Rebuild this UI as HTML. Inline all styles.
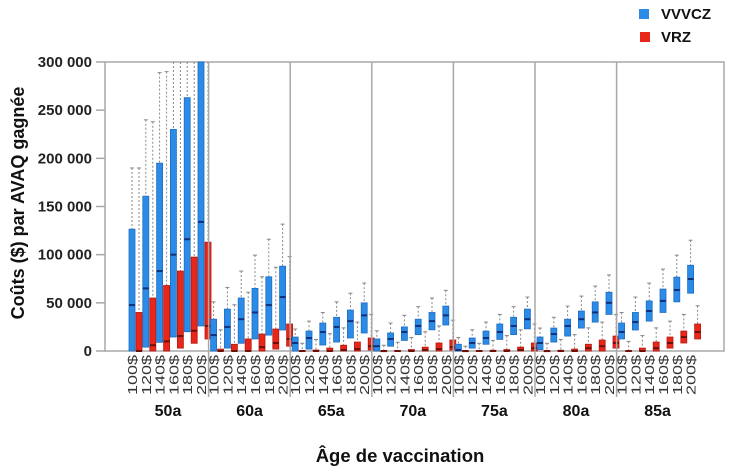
<!DOCTYPE html>
<html><head><meta charset="utf-8"><style>
html,body{margin:0;padding:0;background:#fff;}
svg{display:block;font-family:"Liberation Sans",sans-serif;}
</style></head><body>
<svg id="chart" width="742" height="473" viewBox="0 0 742 473">
<g>
<rect x="639" y="9" width="10" height="10" fill="#2b8be6"/>
<text x="661" y="19" font-size="15" font-weight="bold" fill="#111">VVVCZ</text>
<rect x="640" y="32" width="10" height="10" fill="#e8261a"/>
<text x="661" y="42" font-size="15" font-weight="bold" fill="#111">VRZ</text>
</g>
<text transform="translate(24,203) rotate(-90)" text-anchor="middle" font-size="18" font-weight="bold" fill="#111">Coûts ($) par AVAQ gagnée</text>
<text x="400" y="462" text-anchor="middle" font-size="18.5" font-weight="bold" fill="#111">Âge de vaccination</text>
<g id="plot"></g>
</svg>
<script>
const groups = ["50a","60a","65a","70a","75a","80a","85a"];
const prices = ["100$","120$","140$","160$","180$","200$"];
const yTicks = [0,50000,100000,150000,200000,250000,300000];
const yTickLabels = ["0","50 000","100 000","150 000","200 000","250 000","300 000"];
// [Q1, median, Q3, upper whisker] per group, per price
const blueStats = [
 [[0,47700,126500,190000],[4000,65000,160700,240000],[9000,83000,195000,289000],[14500,100000,230000,330000],[20000,116000,263000,340000],[26000,134000,300000,350000]],
 [[0,16500,33000,51000],[3000,25000,43500,66000],[8000,33000,55000,83000],[12500,40000,65000,99500],[16500,47700,77000,116000],[21800,56000,88000,131700]],
 [[0,8300,14500,22800],[2000,13500,20700,31000],[6200,19700,29000,40000],[9300,25000,35000,51000],[13500,31000,42500,60000],[18700,37000,50000,70500]],
 [[0,5000,12500,21000],[5000,12500,18700,29000],[11000,19700,25000,37000],[17000,26000,33000,46000],[22000,31000,40000,55000],[27000,37000,46600,63000]],
 [[0,1000,7000,14000],[3000,8300,13500,22000],[7000,13500,20700,30000],[12000,19700,28000,38000],[17000,26000,35000,46000],[23000,33000,43500,56000]],
 [[1500,8300,14500,23800],[9300,17600,23800,35000],[15500,26000,33000,46600],[23800,33000,41500,57000],[30000,40000,51000,67400],[38000,50000,61000,79000]],
 [[12500,19700,29000,40000],[21800,30000,40000,56000],[31000,41500,52000,70500],[40000,52000,64300,85000],[51000,63300,76700,99500],[60000,74700,89000,115000]]
];
const redStats = [
 [[0,0,40000,190000],[0,6000,55000,238000],[0,10000,68000,290000],[3000,15500,83000,330000],[8000,21000,97500,340000],[12500,26000,113000,350000]],
 [[0,0,2000,22000],[0,0,7000,48000],[0,0,12500,61000],[0,4000,17600,77000],[2000,8300,22800,87000],[5000,12500,28000,98000]],
 [[0,0,500,8000],[0,0,1000,12000],[0,0,3000,18000],[0,1000,6000,24000],[0,2000,9300,30000],[1000,5000,13500,38000]],
 [[0,0,300,6000],[0,0,600,9000],[0,0,1500,14000],[0,1000,4000,20000],[0,2000,8300,26000],[1000,4000,11400,32000]],
 [[0,0,300,5000],[0,0,500,8000],[0,0,800,11000],[0,0,1500,16000],[0,1000,4000,22000],[0,3000,8300,28000]],
 [[0,0,300,8000],[0,0,800,12000],[0,0,2000,17000],[0,3000,7000,24000],[0,5000,11400,30000],[3000,8300,15500,38000]],
 [[0,0,500,10000],[0,0,3000,16000],[0,3000,9300,24000],[3000,8300,14500,31000],[8300,14500,20700,38000],[12500,19700,28000,47000]]
];
const NS="http://www.w3.org/2000/svg";
const L=105,R=724,T=62,B=351;
const yMax=300000;
function y(v){return B-Math.min(v,yMax)/yMax*(B-T);}
function gx(g){return 128+g*81.6;}
function bx(g,i){return gx(g)+4+i*13.8;}
const plot=document.getElementById('plot');
function mk(tag,attrs,parent){const e=document.createElementNS(NS,tag);for(const k in attrs)e.setAttribute(k,attrs[k]);(parent||plot).appendChild(e);return e;}
const frame=mk('rect',{x:L,y:T,width:R-L,height:B-T,fill:'none',stroke:'#a8a8a8','stroke-width':1.5});


yTicks.forEach((v,k)=>{
 const t=mk('line',{x1:96,x2:L,y1:y(v),y2:y(v),stroke:'#a8a8a8','stroke-width':1.5});
 
 
 const tx=mk('text',{x:92,y:y(v)+5,'text-anchor':'end','font-size':15,'font-weight':'bold',fill:'#222'});
 tx.textContent=yTickLabels[k];
 
 
});
groups.forEach((gname,g)=>{
 if(g>0){
  const s=mk('line',{x1:gx(g)-1,x2:gx(g)-1,y1:T,y2:397,stroke:'#a8a8a8','stroke-width':1.5});
  
  
 }
 const gl=mk('text',{x:gx(g)+40,y:416,'text-anchor':'middle','font-size':16,'font-weight':'bold',fill:'#111'});
 gl.textContent=gname;
 
 
 prices.forEach((p,i)=>{
  const x=bx(g,i);
  [[blueStats,'#2b8be6','#1f6fc0','#10307a',0,'blue'],[redStats,'#e8261a','#b51a10','#6a1008',7,'red']].forEach(([st,fc,sc,mc,off,nm])=>{
   const d=st[g][i];const cx=x+off;
   const w=mk('line',{x1:cx,x2:cx,y1:y(d[3]),y2:y(d[2]),stroke:'#888','stroke-width':1,'stroke-dasharray':'2,2'});
   
   
   if(d[3]<=yMax){const c=mk('line',{x1:cx-2,x2:cx+2,y1:y(d[3]),y2:y(d[3]),stroke:'#888','stroke-width':1});
    
    }
   const bxr=mk('rect',{x:cx-3,y:y(d[2]),width:6,height:Math.max(1,y(d[0])-y(d[2])),fill:fc,stroke:sc,'stroke-width':0.8});
   
   
   const m=mk('line',{x1:cx-3,x2:cx+3,y1:y(d[1]),y2:y(d[1]),stroke:mc,'stroke-width':2});
   
   
  });
  const tl=mk('text',{transform:'translate('+(x+5)+',355) rotate(-90)','text-anchor':'end','font-size':13,fill:'#333',textLength:40,lengthAdjust:'spacingAndGlyphs'});
  tl.textContent=p;
  
  
 });
});
</script>
</body></html>
